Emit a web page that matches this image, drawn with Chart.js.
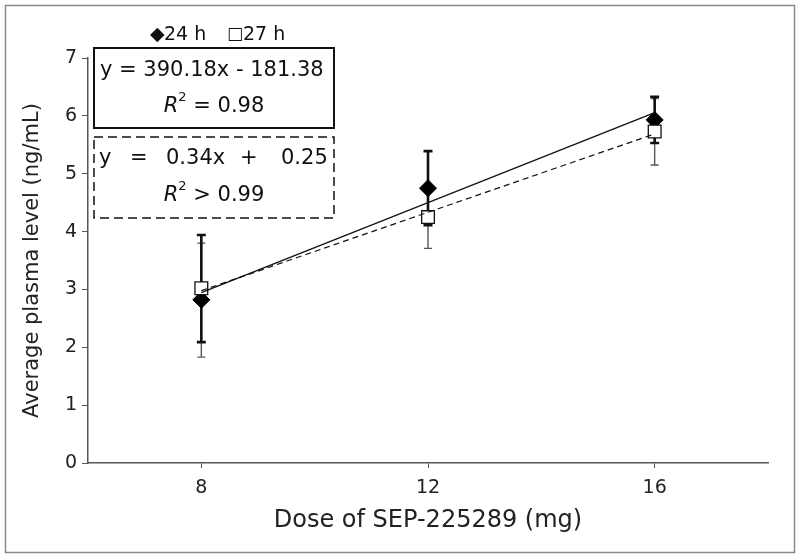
<!DOCTYPE html>
<html>
<head>
<meta charset="utf-8">
<script src="https://cdn.jsdelivr.net/npm/chart.js@4/dist/chart.umd.min.js"></script>
<style>
  body { margin: 0; background: #fff; }
  canvas { display: block; }
</style>
</head>
<body>
<canvas id="myChart" width="800" height="558"></canvas>
<script>
const doses = [8, 12, 16];
const xTicks = [8, 12, 16];

// 24 h, filled diamonds
const mean24 = [2.82, 4.75, 5.93];
const hi24 = [3.94, 5.39, 6.33];
const lo24 = [2.09, 4.11, 5.53];

// 27 h, open squares
const mean27 = [3.02, 4.25, 5.73];
const hi27 = [3.80, 4.79, 6.30];
const lo27 = [1.83, 3.71, 5.15];

const FONT = "'DejaVu Sans', Verdana, sans-serif";

// least squares line through the means, end points at first and last dose
function trend(xs, ys) {
  const n = xs.length;
  const mx = xs.reduce((a, b) => a + b, 0) / n;
  const my = ys.reduce((a, b) => a + b, 0) / n;
  let num = 0, den = 0;
  xs.forEach((x, i) => { num += (x - mx) * (ys[i] - my); den += (x - mx) * (x - mx); });
  const b = num / den;
  const a = my - b * mx;
  return [xs[0], xs[n - 1]].map(x => ({ x: x, y: a + b * x }));
}

const pts = (ys) => doses.map((d, i) => ({ x: d, y: ys[i] }));

// frame round the whole figure
const framePlugin = {
  id: "frame",
  beforeDraw(chart) {
    const c = chart.ctx;
    c.save();
    c.fillStyle = "#fff";
    c.fillRect(0, 0, chart.width, chart.height);
    c.strokeStyle = "#8a8a8a";
    c.lineWidth = 1.5;
    c.strokeRect(5.5, 5.5, 789, 547);
    c.restore();
  }
};

// error bars drawn under the markers
const errorBars = {
  id: "errorBars",
  beforeDatasetsDraw(chart) {
    const c = chart.ctx;
    const xs = chart.scales.x, ys = chart.scales.y;
    const draw = (hi, lo, width, color, cap) => {
      c.strokeStyle = color;
      c.lineWidth = width;
      doses.forEach((d, i) => {
        const x = xs.getPixelForValue(d);
        const yt = ys.getPixelForValue(hi[i]);
        const yb = ys.getPixelForValue(lo[i]);
        c.beginPath();
        c.moveTo(x, yt); c.lineTo(x, yb);
        c.moveTo(x - cap, yt); c.lineTo(x + cap, yt);
        c.moveTo(x - cap, yb); c.lineTo(x + cap, yb);
        c.stroke();
      });
    };
    c.save();
    draw(hi27, lo27, 1.4, "#555", 4);
    draw(hi24, lo24, 2.6, "#111", 4.5);
    c.restore();
  }
};

// legend and regression boxes
const notes = {
  id: "notes",
  afterDraw(chart) {
    const c = chart.ctx;
    c.save();
    c.fillStyle = "#111";
    c.textBaseline = "middle";

    // legend
    c.font = "19px " + FONT;
    c.textAlign = "left";
    c.fillText("\u25C6", 150, 35);
    c.fillText("24 h", 164, 35);
    c.font = "17px " + FONT;
    c.fillText("\u25A1", 227, 35);
    c.font = "19px " + FONT;
    c.fillText("27 h", 243, 35);

    // solid box
    c.strokeStyle = "#111";
    c.lineWidth = 2;
    c.setLineDash([]);
    c.strokeRect(94, 48, 240, 80);
    c.font = "21px " + FONT;
    c.fillText("y = 390.18x - 181.38", 100, 71);
    drawR2(c, 214, 107, "= 0.98");

    // dashed box
    c.lineWidth = 1.5;
    c.setLineDash([9, 5]);
    c.strokeRect(94, 137, 240, 81);
    c.setLineDash([]);
    c.font = "21px " + FONT;
    c.fillText("y", 99, 159);
    c.fillText("=", 130, 159);
    c.fillText("0.34x", 166, 159);
    c.fillText("+", 240, 159);
    c.fillText("0.25", 281, 159);
    drawR2(c, 214, 196, "> 0.99");
    c.restore();
  }
};

function drawR2(c, cx, cy, rest) {
  c.font = "italic 21px " + FONT;
  const wR = c.measureText("R").width;
  c.font = "13px " + FONT;
  const w2 = c.measureText("2").width;
  c.font = "21px " + FONT;
  const wRest = c.measureText(" " + rest).width;
  let x = cx - (wR + w2 + wRest) / 2;
  c.textAlign = "left";
  c.font = "italic 21px " + FONT;
  c.fillText("R", x, cy);
  x += wR;
  c.font = "13px " + FONT;
  c.fillText("2", x, cy - 9);
  x += w2;
  c.font = "21px " + FONT;
  c.fillText(" " + rest, x, cy);
}

const ctx = document.getElementById("myChart");

new Chart(ctx, {
  type: "scatter",
  data: {
    datasets: [
      {
        label: "24 h fit",
        type: "line",
        data: trend(doses, mean24),
        borderColor: "#111",
        borderWidth: 1.3,
        pointRadius: 0,
        fill: false
      },
      {
        label: "27 h fit",
        type: "line",
        data: trend(doses, mean27),
        borderColor: "#111",
        borderWidth: 1.2,
        borderDash: [6, 4],
        pointRadius: 0,
        fill: false
      },
      {
        label: "27 h",
        data: pts(mean27),
        pointStyle: "rect",
        pointRadius: 9,
        backgroundColor: "#fff",
        borderColor: "#111",
        borderWidth: 1.3
      },
      {
        label: "24 h",
        data: pts(mean24),
        pointStyle: "rectRot",
        pointRadius: 8.5,
        backgroundColor: "#000",
        borderColor: "#000",
        borderWidth: 1
      }
    ]
  },
  options: {
    responsive: false,
    animation: false,
    devicePixelRatio: 1,
    layout: { padding: { left: 6, right: 32, top: 58, bottom: 18 } },
    plugins: {
      legend: { display: false },
      tooltip: { enabled: false }
    },
    scales: {
      x: {
        type: "linear",
        min: 6,
        max: 18,
        afterBuildTicks: (scale) => { scale.ticks = xTicks.map(v => ({ value: v })); },
        afterFit: (scale) => { scale.height = 77; },
        grid: { drawOnChartArea: false, drawTicks: true, tickLength: 5, color: "#555" },
        border: { display: true, color: "#555", width: 1.5 },
        ticks: { color: "#222", font: { family: FONT, size: 19 }, padding: 9 },
        title: {
          display: true,
          text: "Dose of SEP-225289 (mg)",
          color: "#222",
          font: { family: FONT, size: 24 },
          padding: { top: 0, bottom: 5 }
        }
      },
      y: {
        min: 0,
        max: 7,
        afterFit: (scale) => { scale.width = 82; },
        grid: { drawOnChartArea: false, drawTicks: true, tickLength: 6, color: "#555" },
        border: { display: true, color: "#555", width: 1.5 },
        ticks: { stepSize: 1, color: "#222", font: { family: FONT, size: 19 }, padding: 5 },
        title: {
          display: true,
          text: "Average plasma level (ng/mL)",
          color: "#222",
          font: { family: FONT, size: 21 },
          padding: { top: 14, bottom: 0 }
        }
      }
    }
  },
  plugins: [framePlugin, errorBars, notes]
});
</script>
</body>
</html>
